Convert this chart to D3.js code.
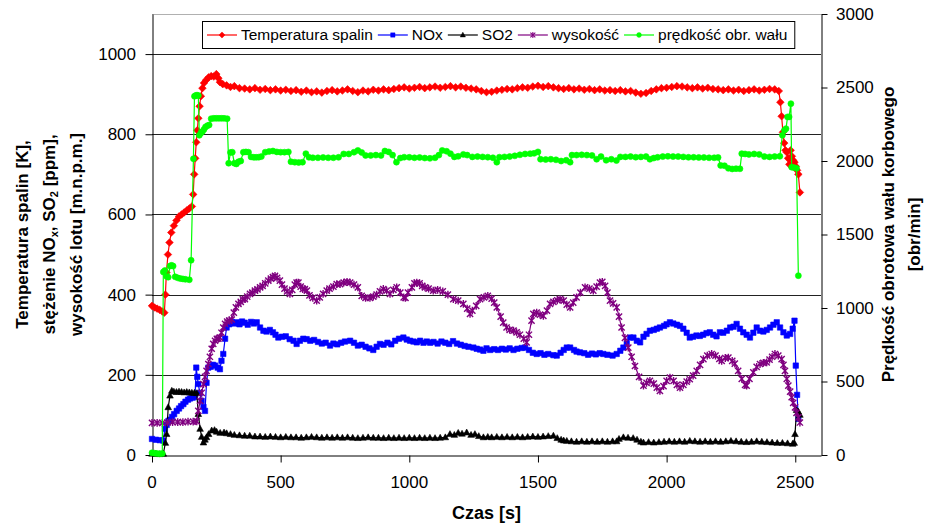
<!DOCTYPE html>
<html>
<head>
<meta charset="utf-8">
<script src="https://d3js.org/d3.v7.min.js"></script>
<style>
  body { margin: 0; background: #fff; }
  text { font-family: "Liberation Sans", Arial, sans-serif; fill: #000; }
</style>
</head>
<body>
<script>
// ---- data (time [s], value) ----
const xTicks = [0, 500, 1000, 1500, 2000, 2500];
const leftTicks = [0, 200, 400, 600, 800, 1000];
const rightTicks = [0, 500, 1000, 1500, 2000, 2500, 3000];

const temperatura = [[0,372],[10,368],[20,365],[30,362],[40,358],[48,355],[52,400],[56,455],[62,500],[68,530],[75,555],[85,572],[95,585],[105,595],[115,600],[125,605],[135,610],[145,615],[155,620],[160,650],[164,700],[168,740],[172,780],[176,810],[180,840],[185,870],[190,895],[196,915],[202,928],[210,935],[220,942],[230,945],[240,944],[250,950],[258,940],[264,930],[275,925],[290,922],[305,918],[320,920],[340,915],[360,914],[380,912],[400,915],[420,911],[440,913],[460,910],[480,912],[500,909],[520,911],[540,908],[560,910],[580,906],[600,909],[620,905],[640,907],[660,904],[680,908],[700,910],[720,907],[740,909],[760,912],[780,908],[800,905],[820,909],[840,907],[860,911],[880,909],[900,912],[920,910],[940,913],[960,915],[980,917],[1000,914],[1020,916],[1040,918],[1060,915],[1080,917],[1100,919],[1120,916],[1140,918],[1160,920],[1180,917],[1200,919],[1220,916],[1240,914],[1260,912],[1280,908],[1300,905],[1320,906],[1340,909],[1360,911],[1380,913],[1400,912],[1420,915],[1440,917],[1460,916],[1480,919],[1500,921],[1520,918],[1540,920],[1560,917],[1580,915],[1600,913],[1620,915],[1640,912],[1660,914],[1680,911],[1700,913],[1720,910],[1740,912],[1760,909],[1780,910],[1800,908],[1820,910],[1840,907],[1860,908],[1880,904],[1900,901],[1920,903],[1940,908],[1960,912],[1980,915],[2000,916],[2020,918],[2040,920],[2060,919],[2080,917],[2100,915],[2120,917],[2140,914],[2160,916],[2180,913],[2200,912],[2220,910],[2240,912],[2260,909],[2280,911],[2300,908],[2320,910],[2340,912],[2360,909],[2380,911],[2400,913],[2420,912],[2436,908],[2442,880],[2447,845],[2452,805],[2457,778],[2462,760],[2467,755],[2472,740],[2477,725],[2482,760],[2487,745],[2492,735],[2497,730],[2502,720],[2507,710],[2512,700],[2518,655]];

const nox = [[0,40],[15,38],[30,37],[44,36],[50,65],[57,75],[64,85],[70,88],[78,95],[86,102],[96,110],[105,116],[113,122],[122,127],[130,133],[140,138],[148,141],[158,143],[167,145],[172,218],[176,195],[180,177],[186,155],[193,135],[200,120],[206,110],[212,180],[219,218],[228,220],[237,225],[245,223],[255,218],[264,214],[270,235],[277,252],[284,290],[290,318],[300,326],[310,332],[320,328],[329,331],[340,326],[350,333],[360,330],[372,325],[385,332],[396,328],[407,331],[420,318],[433,310],[445,308],[458,312],[470,306],[480,300],[491,293],[505,295],[520,296],[535,289],[550,285],[562,277],[575,285],[588,290],[601,289],[615,285],[630,287],[645,282],[660,278],[675,280],[692,273],[705,278],[720,276],[735,280],[750,283],[770,285],[785,280],[800,273],[815,275],[830,270],[845,266],[860,262],[873,270],[886,277],[900,275],[915,280],[930,276],[945,285],[960,290],[977,293],[990,288],[1003,285],[1016,283],[1029,281],[1042,285],[1055,280],[1068,283],[1081,280],[1094,282],[1110,278],[1125,283],[1140,280],[1155,277],[1170,284],[1185,278],[1200,275],[1215,272],[1230,270],[1249,268],[1262,265],[1275,263],[1288,260],[1300,266],[1314,262],[1330,264],[1345,262],[1360,265],[1375,263],[1390,266],[1405,262],[1420,265],[1437,267],[1450,268],[1465,262],[1480,255],[1495,252],[1510,254],[1525,250],[1540,252],[1560,249],[1573,248],[1588,255],[1600,262],[1612,268],[1625,268],[1640,262],[1650,258],[1663,256],[1680,254],[1695,250],[1710,253],[1725,251],[1740,254],[1754,252],[1770,250],[1790,248],[1806,252],[1820,260],[1832,268],[1845,278],[1858,293],[1871,293],[1884,285],[1897,281],[1910,295],[1922,302],[1935,310],[1950,312],[1962,315],[1974,318],[1990,322],[2000,326],[2013,331],[2026,328],[2040,325],[2052,322],[2065,315],[2078,305],[2090,293],[2103,295],[2116,298],[2129,297],[2142,300],[2155,304],[2168,306],[2181,300],[2194,296],[2207,306],[2220,305],[2234,310],[2247,318],[2260,320],[2272,327],[2285,315],[2298,306],[2311,300],[2324,293],[2337,305],[2350,318],[2363,310],[2376,308],[2389,312],[2402,318],[2415,325],[2428,331],[2441,318],[2454,306],[2467,298],[2480,302],[2490,315],[2497,335],[2502,223],[2507,150],[2512,90]];

const so2 = [[0,3],[15,3],[30,2],[44,3],[52,30],[57,52],[63,119],[70,148],[77,160],[85,158],[95,157],[105,158],[115,157],[125,156],[135,157],[145,156],[155,155],[165,155],[174,154],[180,102],[187,65],[193,45],[200,31],[206,38],[212,44],[220,52],[232,61],[243,62],[251,58],[265,55],[280,56],[290,54],[305,52],[320,50],[340,49],[360,48],[380,48],[400,46],[420,46],[440,45],[460,46],[480,45],[500,44],[520,45],[540,44],[560,44],[580,43],[600,44],[620,45],[640,44],[660,43],[680,44],[700,43],[720,44],[740,43],[760,44],[780,43],[800,42],[820,43],[840,44],[860,43],[880,43],[900,42],[920,43],[940,42],[960,43],[980,42],[1000,43],[1020,42],[1040,43],[1060,42],[1080,43],[1100,42],[1120,43],[1140,44],[1158,52],[1175,50],[1190,55],[1205,53],[1223,56],[1240,50],[1255,52],[1270,47],[1288,44],[1305,45],[1320,44],[1340,45],[1360,44],[1380,45],[1400,44],[1420,45],[1440,44],[1460,45],[1480,46],[1500,45],[1520,46],[1540,47],[1560,48],[1575,42],[1590,38],[1600,36],[1612,35],[1630,34],[1650,33],[1670,34],[1690,33],[1710,34],[1730,33],[1750,34],[1770,33],[1790,34],[1806,34],[1815,40],[1832,44],[1850,43],[1870,42],[1885,38],[1900,33],[1910,31],[1930,32],[1950,31],[1970,32],[1990,33],[2010,34],[2030,33],[2050,34],[2070,33],[2090,35],[2110,34],[2130,33],[2150,34],[2170,33],[2190,34],[2210,33],[2230,34],[2250,35],[2270,34],[2290,33],[2310,32],[2330,33],[2350,34],[2370,33],[2390,32],[2410,31],[2430,30],[2450,30],[2470,29],[2490,28],[2496,30],[2499,52],[2505,112],[2512,108],[2518,100]];

const wysokosc = [[0,80],[20,80],[40,80],[60,81],[80,82],[100,82],[120,82],[140,83],[160,83],[174,84],[180,110],[187,135],[193,155],[200,177],[206,195],[212,210],[219,227],[225,245],[232,265],[238,277],[245,285],[252,290],[258,290],[264,293],[270,305],[277,318],[284,327],[292,333],[300,335],[310,338],[318,355],[326,368],[336,377],[345,382],[353,388],[361,389],[370,395],[381,402],[390,405],[400,410],[410,413],[420,418],[430,422],[440,428],[452,435],[462,440],[470,444],[478,447],[486,442],[497,435],[505,425],[515,415],[525,408],[536,402],[545,412],[555,425],[562,430],[569,430],[578,420],[586,414],[594,414],[602,410],[612,398],[625,392],[640,385],[652,393],[665,402],[679,410],[690,415],[705,420],[718,426],[731,426],[745,430],[758,432],[770,430],[785,425],[800,418],[815,397],[830,392],[847,392],[860,395],[873,400],[886,408],[899,414],[912,410],[925,402],[938,412],[951,418],[965,405],[978,393],[985,392],[995,405],[1010,418],[1020,428],[1029,430],[1040,428],[1050,422],[1061,418],[1075,415],[1093,410],[1110,412],[1130,408],[1150,400],[1171,389],[1190,385],[1210,377],[1225,365],[1236,352],[1245,360],[1260,372],[1275,389],[1290,393],[1305,397],[1320,390],[1330,380],[1340,368],[1355,345],[1365,330],[1378,318],[1390,312],[1405,310],[1417,306],[1430,300],[1445,290],[1456,281],[1465,300],[1475,335],[1482,352],[1495,355],[1508,350],[1521,347],[1535,360],[1547,377],[1560,382],[1575,386],[1586,389],[1600,385],[1612,375],[1625,368],[1637,380],[1650,393],[1665,405],[1683,418],[1700,415],[1715,410],[1728,420],[1741,430],[1750,432],[1761,422],[1770,405],[1780,385],[1792,378],[1806,368],[1815,345],[1825,318],[1838,292],[1851,268],[1864,245],[1877,222],[1893,195],[1910,173],[1922,180],[1935,185],[1950,178],[1962,168],[1974,160],[1988,172],[2000,185],[2013,193],[2027,185],[2040,175],[2052,168],[2065,175],[2078,183],[2090,189],[2103,198],[2117,210],[2130,225],[2143,239],[2158,248],[2175,252],[2190,248],[2205,240],[2214,235],[2228,242],[2240,243],[2255,235],[2265,228],[2278,210],[2292,190],[2305,175],[2311,173],[2322,190],[2337,206],[2350,220],[2363,227],[2376,230],[2389,231],[2400,238],[2410,245],[2421,252],[2434,248],[2447,239],[2454,225],[2460,210],[2467,190],[2473,173],[2480,158],[2486,144],[2492,130],[2499,119],[2505,105],[2512,94],[2518,81]];

// right axis [obr/min]
const predkosc = [[0,15],[10,12],[20,10],[30,8],[40,10],[44,1245],[50,1255],[57,1215],[63,1210],[70,1285],[76,1290],[82,1285],[90,1212],[100,1205],[110,1200],[120,1198],[130,1195],[145,1192],[152,1325],[161,2015],[165,2440],[170,2446],[175,2448],[180,2445],[184,2175],[190,2190],[196,2200],[202,2215],[208,2232],[215,2240],[222,2245],[230,2288],[240,2290],[250,2290],[260,2290],[270,2290],[280,2290],[292,2288],[298,1985],[305,2058],[312,2060],[320,1985],[328,1980],[336,1995],[345,2000],[355,2060],[365,2062],[375,2060],[385,2028],[395,2025],[405,2025],[415,2026],[425,2030],[440,2060],[455,2065],[470,2068],[485,2062],[500,2060],[515,2060],[530,2062],[540,1995],[555,1992],[570,1990],[585,1992],[598,2050],[610,2025],[625,2022],[645,2022],[665,2024],[685,2022],[705,2022],[725,2025],[745,2048],[765,2048],[785,2060],[800,2072],[815,2058],[830,2038],[850,2038],[870,2040],[890,2038],[905,2068],[920,2062],[935,2040],[950,1992],[965,2020],[980,2026],[1000,2025],[1020,2022],[1040,2024],[1060,2020],[1080,2018],[1100,2022],[1115,2040],[1128,2072],[1145,2066],[1160,2050],[1175,2028],[1190,2032],[1210,2045],[1225,2040],[1245,2028],[1265,2030],[1285,2028],[1305,2026],[1325,2022],[1340,1992],[1350,2026],[1370,2028],[1390,2030],[1410,2035],[1430,2042],[1450,2048],[1470,2050],[1485,2052],[1500,2062],[1510,2012],[1530,2010],[1550,2012],[1570,2008],[1590,2000],[1610,2005],[1625,1992],[1632,2040],[1650,2040],[1670,2042],[1690,2040],[1710,2038],[1728,2012],[1745,2030],[1765,2005],[1785,2012],[1805,2003],[1820,2028],[1840,2028],[1860,2030],[1880,2026],[1900,2028],[1920,2030],[1935,2012],[1950,2020],[1965,2025],[1985,2030],[2005,2032],[2025,2030],[2045,2030],[2065,2028],[2085,2025],[2105,2025],[2125,2024],[2145,2024],[2165,2022],[2185,2022],[2200,2024],[2210,1970],[2225,1968],[2240,1950],[2255,1946],[2270,1948],[2285,1947],[2292,2050],[2305,2048],[2320,2045],[2340,2048],[2360,2045],[2380,2030],[2400,2028],[2420,2030],[2440,2032],[2450,2175],[2458,2210],[2464,2220],[2470,2300],[2476,2300],[2483,2390],[2486,1958],[2495,1955],[2505,1950],[2512,1220]];

const seriesNames = ["Temperatura spalin", "NOx", "SO2", "wysokość", "prędkość obr. wału"];
const seriesColors = ["#ff0000", "#0000ff", "#000000", "#800080", "#00ff00"];

// ---- layout ----
const width = 933, height = 527;
const plot = { left: 152, right: 821, top: 14, bottom: 455 };

const svg = d3.select('body').append('svg')
  .attr('width', width)
  .attr('height', height);

const x = d3.scaleLinear().domain([0, 2600]).range([plot.left, plot.right]);
const yL = d3.scaleLinear().domain([0, 1100]).range([plot.bottom, plot.top]);
const yR = d3.scaleLinear().domain([0, 3000]).range([plot.bottom, plot.top]);

// marker shapes (Excel-like)
const markers = [
  { d: 'M0,-3.8L3.8,0L0,3.8L-3.8,0Z', fill: true },                   // diamond
  { d: 'M-2.7,-2.7h5.4v5.4h-5.4Z', fill: true },                      // square
  { d: 'M0,-3.5L3.3,2.4L-3.3,2.4Z', fill: true },                     // triangle
  { d: 'M-3.1,-3.1L3.1,3.1M-3.1,3.1L3.1,-3.1M0,-3.9V3.9', fill: false }, // star
  { d: 'M3,0A3,3 0 1,1 -3,0A3,3 0 1,1 3,0Z', fill: true }             // circle
];

// top border + gridlines
svg.append('line')
  .attr('x1', plot.left).attr('x2', plot.right)
  .attr('y1', plot.top + 0.5).attr('y2', plot.top + 0.5)
  .attr('stroke', '#b0b0b0');

svg.append('g').selectAll('line')
  .data(leftTicks.filter(d => d > 0))
  .enter().append('line')
  .attr('x1', plot.left).attr('x2', plot.right)
  .attr('y1', d => Math.round(yL(d)) + 0.5)
  .attr('y2', d => Math.round(yL(d)) + 0.5)
  .attr('stroke', '#222');

// axes (lines + ticks), labels drawn separately
const axL = svg.append('g').attr('transform', `translate(${plot.left + 0.5},0)`)
  .call(d3.axisLeft(yL).tickValues(leftTicks).tickSize(7).tickSizeOuter(0).tickFormat(''));
const axR = svg.append('g').attr('transform', `translate(${plot.right + 0.5},0)`)
  .call(d3.axisRight(yR).tickValues(rightTicks).tickSize(6).tickSizeOuter(0).tickFormat(''));
const axB = svg.append('g').attr('transform', `translate(0,${plot.bottom + 0.5})`)
  .call(d3.axisBottom(x).tickValues(xTicks).tickSize(7).tickSizeOuter(0).tickFormat(''));
[axL, axR, axB].forEach(a => a.selectAll('path, line').attr('stroke', '#000'));

const tickFont = 17;
svg.append('g').selectAll('text')
  .data(leftTicks).enter().append('text')
  .attr('x', plot.left - 16).attr('y', d => yL(d))
  .attr('dy', '0.35em').attr('text-anchor', 'end')
  .style('font-size', tickFont + 'px')
  .text(d => d);

svg.append('g').selectAll('text')
  .data(rightTicks).enter().append('text')
  .attr('x', plot.right + 15).attr('y', d => yR(d))
  .attr('dy', '0.35em').attr('text-anchor', 'start')
  .style('font-size', tickFont + 'px')
  .text(d => d);

svg.append('g').selectAll('text')
  .data(xTicks).enter().append('text')
  .attr('x', d => x(d)).attr('y', 482)
  .attr('dy', '0.35em').attr('text-anchor', 'middle')
  .style('font-size', tickFont + 'px')
  .text(d => d);

// axis titles
svg.append('text')
  .attr('x', (plot.left + plot.right) / 2).attr('y', 513)
  .attr('dy', '0.35em').attr('text-anchor', 'middle')
  .style('font-size', '18px').style('font-weight', 'bold')
  .text('Czas [s]');

const cy = (plot.top + plot.bottom) / 2;
const leftTitle = svg.append('g')
  .style('font-size', '17px').style('font-weight', 'bold');
leftTitle.append('text')
  .attr('transform', `translate(28,${cy}) rotate(-90)`)
  .attr('text-anchor', 'middle')
  .text('Temperatura spalin [K],');
const t2 = leftTitle.append('text')
  .attr('transform', `translate(55,${cy}) rotate(-90)`)
  .attr('text-anchor', 'middle');
t2.append('tspan').text('stężenie NO');
t2.append('tspan').attr('dy', 3).style('font-size', '11px').text('x');
t2.append('tspan').attr('dy', -3).text(', SO');
t2.append('tspan').attr('dy', 3).style('font-size', '11px').text('2');
t2.append('tspan').attr('dy', -3).text(' [ppm],');
leftTitle.append('text')
  .attr('transform', `translate(82,${cy}) rotate(-90)`)
  .attr('text-anchor', 'middle')
  .text('wysokość lotu [m.n.p.m.]');

const rightTitle = svg.append('g')
  .style('font-size', '17px').style('font-weight', 'bold');
rightTitle.append('text')
  .attr('transform', `translate(894,${cy}) rotate(-90)`)
  .attr('text-anchor', 'middle')
  .text('Prędkość obrotowa wału korbowego');
rightTitle.append('text')
  .attr('transform', `translate(920,${cy}) rotate(-90)`)
  .attr('text-anchor', 'middle')
  .text('[obr/min]');

// ---- series ----
const seriesData = [temperatura, nox, so2, wysokosc, predkosc];
const seriesScale = [yL, yL, yL, yL, yR];

const plotArea = svg.append('g');
seriesData.forEach((data, i) => {
  const y = seriesScale[i];
  const g = plotArea.append('g');
  g.append('path')
    .datum(data)
    .attr('fill', 'none')
    .attr('stroke', seriesColors[i])
    .attr('stroke-width', 1.2)
    .attr('d', d3.line().x(d => x(d[0])).y(d => y(d[1])));
  g.selectAll('path.m')
    .data(data)
    .enter().append('path')
    .attr('class', 'm')
    .attr('transform', d => `translate(${x(d[0])},${y(d[1])})`)
    .attr('d', markers[i].d)
    .attr('fill', markers[i].fill ? seriesColors[i] : 'none')
    .attr('stroke', seriesColors[i])
    .attr('stroke-width', markers[i].fill ? 0.6 : 1.4);
});

// ---- legend ----
const legend = svg.append('g');
const legBox = legend.append('rect')
  .attr('fill', '#fff').attr('stroke', '#000').attr('stroke-width', 1);
let lx = 207;
const ly = 35;
seriesNames.forEach((name, i) => {
  const it = legend.append('g');
  it.append('line')
    .attr('x1', lx).attr('x2', lx + 30)
    .attr('y1', ly).attr('y2', ly)
    .attr('stroke', seriesColors[i]).attr('stroke-width', 1.2);
  it.append('path')
    .attr('transform', `translate(${lx + 15},${ly}) scale(0.8)`)
    .attr('d', markers[i].d)
    .attr('fill', markers[i].fill ? seriesColors[i] : 'none')
    .attr('stroke', seriesColors[i])
    .attr('stroke-width', markers[i].fill ? 0.6 : 1.3);
  const t = it.append('text')
    .attr('x', lx + 34).attr('y', ly).attr('dy', '0.35em')
    .style('font-size', '15.5px')
    .text(name);
  lx += 34 + t.node().getComputedTextLength() + 5;
});
legBox.attr('x', 202.5).attr('y', 21.5)
  .attr('width', lx - 202 + 2).attr('height', 27);
</script>
</body>
</html>
